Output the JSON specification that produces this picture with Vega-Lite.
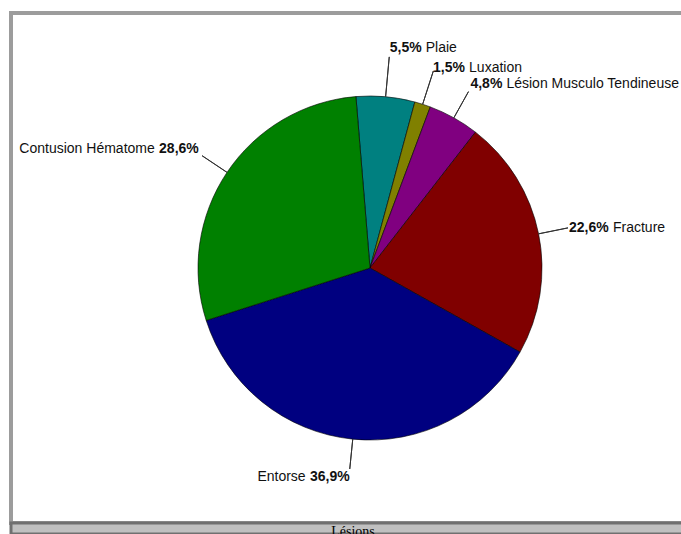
{
  "$schema": "https://vega.github.io/schema/vega-lite/v6.json",
  "background": "white",
  "padding": {"left": 9, "top": 11, "right": 0, "bottom": 0},
  "spacing": 0,
  "bounds": "flush",
  "datasets": {
    "lesions": [
      {"label": "Plaie", "value": 5.5, "pct": "5,5%"},
      {"label": "Luxation", "value": 1.5, "pct": "1,5%"},
      {"label": "Lésion Musculo Tendineuse", "value": 4.8, "pct": "4,8%"},
      {"label": "Fracture", "value": 22.6, "pct": "22,6%"},
      {"label": "Entorse", "value": 36.9, "pct": "36,9%"},
      {"label": "Contusion Hématome", "value": 28.6, "pct": "28,6%"}
    ],
    "titre": [{"t": "Lésions"}]
  },
  "vconcat": [
    {
      "width": 718,
      "height": 510,
      "view": {"fill": "white", "stroke": "#9c9c9c", "strokeWidth": 4},
      "data": {"name": "lesions"},
      "transform": [{"window": [{"op": "row_number", "as": "idx"}]}],
      "encoding": {
        "theta": {"field": "value", "type": "quantitative", "stack": true, "scale": {"range": [-0.082, 6.2012]}},
        "order": {"field": "idx", "type": "quantitative"},
        "detail": {"field": "label", "type": "nominal"}
      },
      "layer": [
        {
          "mark": {"type": "arc", "outerRadius": 172, "stroke": "black", "strokeWidth": 0.6},
          "encoding": {
            "color": {
              "field": "label", "type": "nominal", "legend": null,
              "scale": {
                "domain": ["Plaie", "Luxation", "Lésion Musculo Tendineuse", "Fracture", "Entorse", "Contusion Hématome"],
                "range": ["#008080", "#808000", "#800080", "#800000", "#000080", "#008000"]
              }
            }
          }
        },
        {
          "mark": {"type": "arc", "innerRadius": 172, "outerRadius": 202, "padAngle": 3, "fillOpacity": 0, "stroke": "#333333", "strokeWidth": 1},
          "encoding": {
            "strokeOpacity": {"condition": {"test": "indexof(['Lésion Musculo Tendineuse','Fracture','Entorse','Contusion Hématome'], datum.label) >= 0", "value": 1}, "value": 0}
          }
        },
        {
          "mark": {"type": "arc", "innerRadius": 172, "outerRadius": 212, "padAngle": 3, "fillOpacity": 0, "stroke": "#333333", "strokeWidth": 1},
          "encoding": {
            "strokeOpacity": {"condition": {"test": "datum.label === 'Plaie'", "value": 1}, "value": 0}
          }
        },
        {
          "mark": {"type": "arc", "innerRadius": 172, "outerRadius": 207, "padAngle": 3, "fillOpacity": 0, "stroke": "#333333", "strokeWidth": 1},
          "encoding": {
            "strokeOpacity": {"condition": {"test": "datum.label === 'Luxation'", "value": 1}, "value": 0}
          }
        },
        {
          "mark": {"type": "text", "radius": 217, "align": "left", "baseline": "alphabetic", "font": "Liberation Sans", "fontSize": 14, "fontWeight": "bold", "color": "#111111"},
          "encoding": {"text": {"condition": {"test": "datum.label === 'Plaie'", "field": "pct", "type": "nominal"}, "value": ""}}
        },
        {
          "mark": {"type": "text", "radius": 217, "align": "left", "baseline": "alphabetic", "font": "Liberation Sans", "fontSize": 14, "dx": 36, "color": "#111111"},
          "encoding": {"text": {"condition": {"test": "datum.label === 'Plaie'", "field": "label", "type": "nominal"}, "value": ""}}
        },
        {
          "mark": {"type": "text", "radius": 206, "align": "left", "baseline": "alphabetic", "font": "Liberation Sans", "fontSize": 14, "fontWeight": "bold", "color": "#111111"},
          "encoding": {"text": {"condition": {"test": "datum.label === 'Luxation' || datum.label === 'Lésion Musculo Tendineuse'", "field": "pct", "type": "nominal"}, "value": ""}}
        },
        {
          "mark": {"type": "text", "radius": 206, "align": "left", "baseline": "alphabetic", "font": "Liberation Sans", "fontSize": 14, "dx": 36, "color": "#111111"},
          "encoding": {"text": {"condition": {"test": "datum.label === 'Luxation' || datum.label === 'Lésion Musculo Tendineuse'", "field": "label", "type": "nominal"}, "value": ""}}
        },
        {
          "mark": {"type": "text", "radius": 203, "align": "left", "baseline": "middle", "font": "Liberation Sans", "fontSize": 14, "fontWeight": "bold", "color": "#111111"},
          "encoding": {"text": {"condition": {"test": "datum.label === 'Fracture'", "field": "pct", "type": "nominal"}, "value": ""}}
        },
        {
          "mark": {"type": "text", "radius": 203, "align": "left", "baseline": "middle", "font": "Liberation Sans", "fontSize": 14, "dx": 44, "color": "#111111"},
          "encoding": {"text": {"condition": {"test": "datum.label === 'Fracture'", "field": "label", "type": "nominal"}, "value": ""}}
        },
        {
          "mark": {"type": "text", "radius": 203, "align": "right", "baseline": "top", "font": "Liberation Sans", "fontSize": 14, "fontWeight": "bold", "color": "#111111"},
          "encoding": {"text": {"condition": {"test": "datum.label === 'Entorse'", "field": "pct", "type": "nominal"}, "value": ""}}
        },
        {
          "mark": {"type": "text", "radius": 203, "align": "right", "baseline": "top", "font": "Liberation Sans", "fontSize": 14, "dx": -44, "color": "#111111"},
          "encoding": {"text": {"condition": {"test": "datum.label === 'Entorse'", "field": "label", "type": "nominal"}, "value": ""}}
        },
        {
          "mark": {"type": "text", "radius": 206, "align": "right", "baseline": "alphabetic", "font": "Liberation Sans", "fontSize": 14, "fontWeight": "bold", "color": "#111111"},
          "encoding": {"text": {"condition": {"test": "datum.label === 'Contusion Hématome'", "field": "pct", "type": "nominal"}, "value": ""}}
        },
        {
          "mark": {"type": "text", "radius": 206, "align": "right", "baseline": "alphabetic", "font": "Liberation Sans", "fontSize": 14, "dx": -44, "color": "#111111"},
          "encoding": {"text": {"condition": {"test": "datum.label === 'Contusion Hématome'", "field": "label", "type": "nominal"}, "value": ""}}
        }
      ]
    },
    {
      "width": 684,
      "height": 11,
      "view": {"fill": "#c0c0c0", "stroke": "#707070", "strokeWidth": 3},
      "data": {"name": "titre"},
      "mark": {"type": "text", "font": "Liberation Serif", "fontSize": 14, "baseline": "top", "dy": -4, "color": "black"},
      "encoding": {"text": {"field": "t", "type": "nominal"}}
    }
  ]
}
